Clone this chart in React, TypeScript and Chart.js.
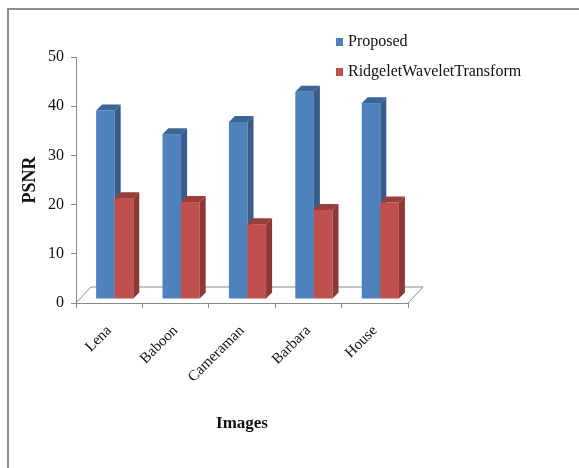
import React, { useEffect, useRef } from "react";
import { Chart, registerables } from "chart.js";

Chart.register(...registerables);

const categories = ["Lena", "Baboon", "Cameraman", "Barbara", "House"];
const seriesNames = ["Proposed", "RidgeletWaveletTransform"];
const proposed = [38.3, 33.5, 36.0, 42.1, 39.8];
const ridgelet = [20.5, 19.7, 15.2, 18.1, 19.6];
const yTicks = [0, 10, 20, 30, 40, 50];

const FRONT = ["#4F81BD", "#C0504D"];
const SIDE = ["#385D8A", "#8C3836"];
const TOP = ["#3B6497", "#9A3E3B"];
const AXIS = "#8A8A8A";
const SERIF = '"Liberation Serif", "Times New Roman", serif';

const BAR_SHIFT = { x: 5.5, y: -4 };
const BAR_DEPTH = { x: 6, y: -6 };
const FLOOR_DEPTH = { x: 15, y: -16 };

const threeD = {
  id: "threeD",
  beforeDraw(chart: any) {
    const { ctx, width, height } = chart;
    ctx.save();
    ctx.fillStyle = "#ffffff";
    ctx.fillRect(0, 0, width, height);
    ctx.strokeStyle = "#8c8c8c";
    ctx.lineWidth = 2;
    ctx.beginPath();
    ctx.moveTo(8, height);
    ctx.lineTo(8, 9);
    ctx.lineTo(width, 9);
    ctx.stroke();
    ctx.restore();
  },
  beforeDatasetsDraw(chart: any) {
    const { ctx, chartArea } = chart;
    const y0 = chart.scales.y.getPixelForValue(0);
    ctx.save();
    ctx.strokeStyle = AXIS;
    ctx.lineWidth = 1;
    ctx.beginPath();
    ctx.moveTo(chartArea.left, y0);
    ctx.lineTo(chartArea.left + FLOOR_DEPTH.x, y0 + FLOOR_DEPTH.y);
    ctx.lineTo(chartArea.right + FLOOR_DEPTH.x, y0 + FLOOR_DEPTH.y);
    ctx.lineTo(chartArea.right, y0);
    ctx.stroke();
    ctx.restore();
  },
  afterDatasetsDraw(chart: any) {
    const { ctx } = chart;
    const metas = [chart.getDatasetMeta(0), chart.getDatasetMeta(1)];
    ctx.save();
    ctx.translate(BAR_SHIFT.x, BAR_SHIFT.y);
    const dx = BAR_DEPTH.x;
    const dy = BAR_DEPTH.y;
    categories.forEach((_, ci) => {
      metas.forEach((meta, di) => {
        const bar = meta.data[ci];
        const p = bar.getProps(["x", "y", "base", "width"], true);
        const l = p.x - p.width / 2;
        const r = p.x + p.width / 2;
        ctx.fillStyle = FRONT[di];
        ctx.fillRect(l, p.y, p.width, p.base - p.y);
        ctx.fillStyle = TOP[di];
        ctx.beginPath();
        ctx.moveTo(l, p.y);
        ctx.lineTo(l + dx, p.y + dy);
        ctx.lineTo(r + dx, p.y + dy);
        ctx.lineTo(r, p.y);
        ctx.closePath();
        ctx.fill();
        ctx.fillStyle = SIDE[di];
        ctx.beginPath();
        ctx.moveTo(r, p.y);
        ctx.lineTo(r + dx, p.y + dy);
        ctx.lineTo(r + dx, p.base + dy);
        ctx.lineTo(r, p.base);
        ctx.closePath();
        ctx.fill();
      });
    });
    ctx.restore();
  },
  afterDraw(chart: any) {
    const { ctx } = chart;
    ctx.save();
    ctx.font = `16px ${SERIF}`;
    ctx.textBaseline = "middle";
    ctx.textAlign = "left";
    seriesNames.forEach((name, i) => {
      const cy = 42 + i * 30;
      ctx.fillStyle = FRONT[i];
      ctx.fillRect(336, cy - 4, 7, 8);
      ctx.fillStyle = "#111";
      ctx.fillText(name, 348, cy);
    });
    ctx.restore();
  },
};

export default function App() {
  const ref = useRef<HTMLCanvasElement>(null);
  useEffect(() => {
    if (!ref.current) return;
    const chart = new Chart(ref.current, {
      type: "bar",
      data: {
        labels: categories,
        datasets: [
          {
            label: seriesNames[0],
            data: proposed,
            backgroundColor: "rgba(0,0,0,0)",
            barPercentage: 1,
            categoryPercentage: 0.56,
          },
          {
            label: seriesNames[1],
            data: ridgelet,
            backgroundColor: "rgba(0,0,0,0)",
            barPercentage: 1,
            categoryPercentage: 0.56,
          },
        ],
      },
      options: {
        responsive: false,
        animation: false,
        layout: { padding: { top: 57, right: 171, left: 0, bottom: 0 } },
        plugins: {
          legend: { display: false },
          tooltip: { enabled: false },
        },
        scales: {
          x: {
            afterFit: (s: any) => {
              s.height = 165;
            },
            grid: {
              drawOnChartArea: false,
              drawTicks: true,
              tickLength: 5,
              color: AXIS,
              offset: true,
            },
            border: { color: AXIS },
            ticks: {
              minRotation: 45,
              maxRotation: 45,
              padding: 14,
              color: "#111",
              font: { family: SERIF, size: 15 },
            },
            title: {
              display: true,
              text: "Images",
              color: "#111",
              font: { family: SERIF, size: 17, weight: "bold" },
              padding: { top: 0, bottom: 34 },
            },
          },
          y: {
            min: 0,
            max: 50,
            afterFit: (s: any) => {
              s.width = 76;
            },
            afterBuildTicks: (s: any) => {
              s.ticks = yTicks.map((v) => ({ value: v }));
            },
            grid: {
              drawOnChartArea: false,
              drawTicks: true,
              tickLength: 5,
              color: AXIS,
            },
            border: { color: AXIS },
            ticks: {
              padding: 7,
              color: "#111",
              font: { family: SERIF, size: 16 },
            },
            title: {
              display: true,
              text: "PSNR",
              color: "#111",
              font: { family: SERIF, size: 18, weight: "bold" },
              padding: { top: 20, bottom: 0 },
            },
          },
        },
      },
      plugins: [threeD],
    });
    return () => chart.destroy();
  }, []);
  return (
    <div style={{ position: "fixed", left: 0, top: 0, width: 579, height: 468, background: "#fff" }}>
      <canvas ref={ref} width={579} height={468} style={{ display: "block" }} />
    </div>
  );
}
